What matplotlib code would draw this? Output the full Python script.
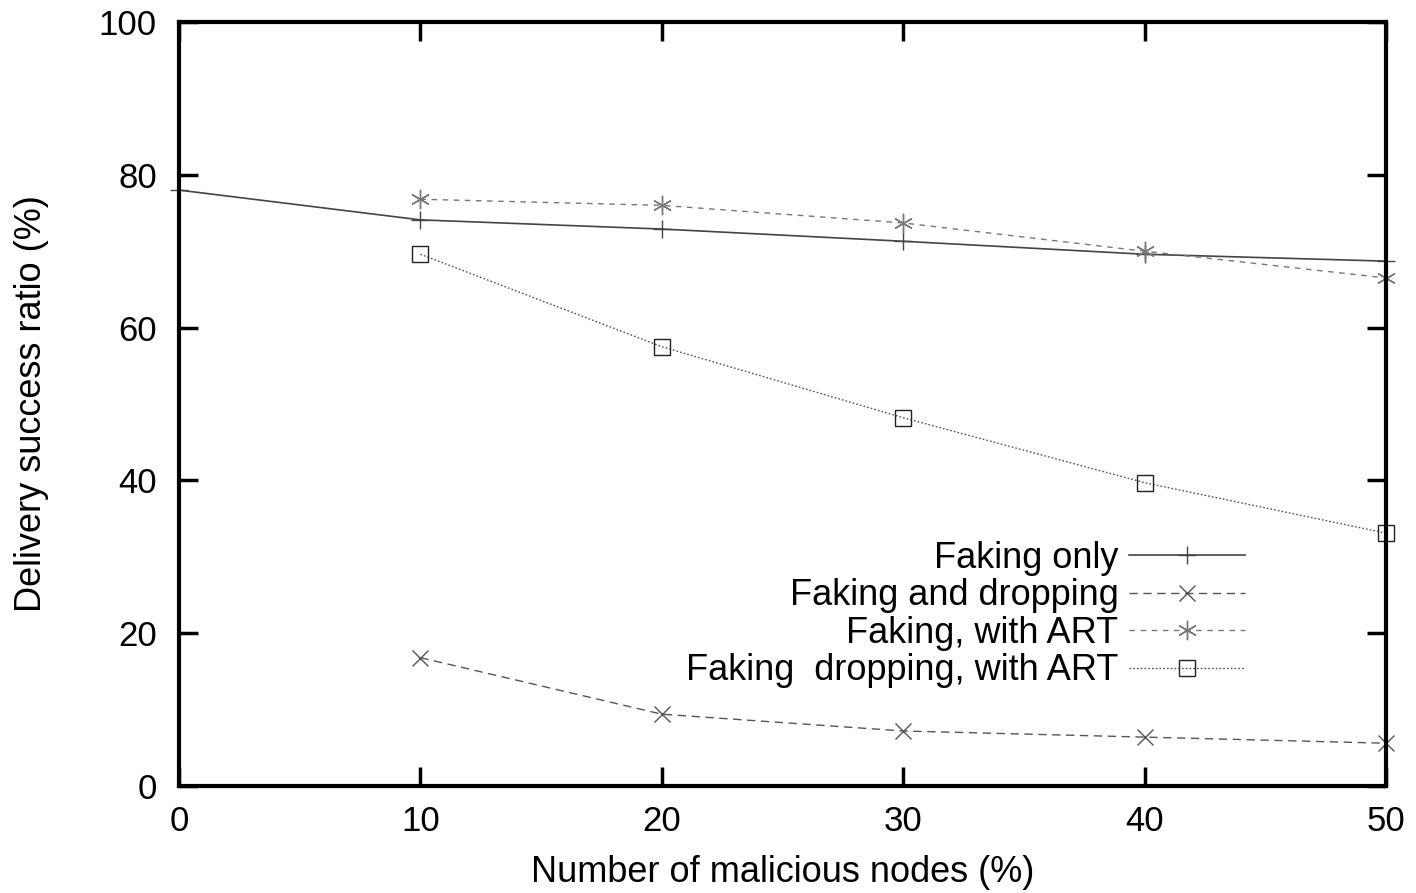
import numpy as np
import matplotlib.pyplot as plt

plt.rcParams['font.family'] = ['Liberation Sans', 'DejaVu Sans']

x_only = [0, 10, 20, 30, 40, 50]
faking_only = [78.0, 74.1, 72.9, 71.3, 69.6, 68.7]

x_att = [10, 20, 30, 40, 50]
faking_dropping = [16.8, 9.4, 7.2, 6.4, 5.6]
faking_art = [76.8, 76.0, 73.7, 70.0, 66.5]
faking_dropping_art = [69.6, 57.5, 48.2, 39.7, 33.1]

labels = ['Faking only', 'Faking and dropping', 'Faking, with ART', 'Faking  dropping, with ART']

fig = plt.figure(figsize=(14.16, 8.93), dpi=100)
ax = fig.add_axes([179 / 1416, 1 - 786 / 893, (1386 - 179) / 1416, (786 - 22) / 893])

ax.plot(x_only, faking_only, color='#444444', lw=1.2, ls='-', marker='+', ms=13,
        mew=1.0, label=labels[0], clip_on=False)
ax.plot(x_att, faking_dropping, color='#555555', lw=1.0, ls=(0, (6, 4)), marker='x', ms=11,
        mew=1.0, label=labels[1], clip_on=False)
ax.plot(x_att, faking_art, color='#777777', lw=1.0, ls=(0, (4, 4)), marker=(6, 2, 0), ms=14,
        mew=1.0, label=labels[2], clip_on=False)
ax.plot(x_att, faking_dropping_art, color='#555555', lw=1.0, ls=(0, (1.2, 1.5)), marker='s', ms=11,
        mfc='none', mec='#222222', mew=1.0, label=labels[3], clip_on=False)

ax.set_xlim(0, 50)
ax.set_ylim(0, 100)
ax.set_xticks([0, 10, 20, 30, 40, 50])
ax.set_yticks([0, 20, 40, 60, 80, 100])
ax.tick_params(direction='in', length=14, width=2.5, top=True, right=True, labelsize=25)
ax.tick_params(axis='x', pad=14)
ax.tick_params(axis='y', pad=16)
for s in ax.spines.values():
    s.set_linewidth(3)

ax.set_xlabel('Number of malicious nodes (%)', fontsize=26, labelpad=12)
ax.set_ylabel('Delivery success ratio (%)', fontsize=26, labelpad=36)

leg = ax.legend(loc='lower right', bbox_to_anchor=(0.895, 0.109), frameon=False,
                markerfirst=False, fontsize=26, handlelength=3.2, handletextpad=0.3,
                labelspacing=0.07, borderaxespad=0)
for t in leg.get_texts():
    t.set_ha('right')
leg._legend_box.align = 'right'

fig.savefig('out.png', dpi=100)
